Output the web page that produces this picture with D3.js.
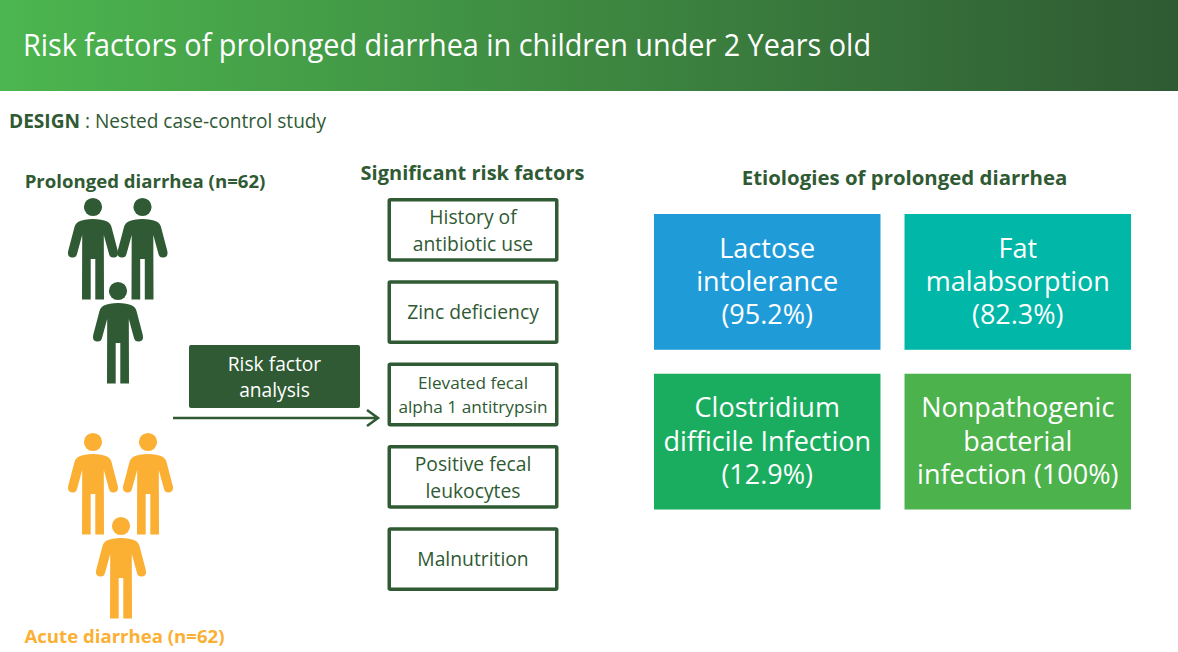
<!DOCTYPE html>
<html>
<head>
<meta charset="utf-8">
<script src="https://cdn.jsdelivr.net/npm/d3@7"></script>
<style>
  html, body { margin: 0; padding: 0; background: #fff; }
  svg { display: block; }
  text { font-family: "Open Sans", sans-serif; }
</style>
</head>
<body>
<svg id="chart" width="1178" height="652"></svg>
<script>
const titleText = 'Risk factors of prolonged diarrhea in children under 2 Years old';
const designLabel = 'DESIGN';
const designText = ' : Nested case-control study';
const prolongedLabel = 'Prolonged diarrhea (n=62)';
const acuteLabel = 'Acute diarrhea (n=62)';
const analysisLines = ['Risk factor', 'analysis'];
const riskHeading = 'Significant risk factors';
const riskFactors = [
  ['History of', 'antibiotic use'],
  ['Zinc deficiency'],
  ['Elevated fecal', 'alpha 1 antitrypsin'],
  ['Positive fecal', 'leukocytes'],
  ['Malnutrition']
];
const etiologyHeading = 'Etiologies of prolonged diarrhea';
const etiologyLines = [
  ['Lactose', 'intolerance', '(95.2%)'],
  ['Fat', 'malabsorption', '(82.3%)'],
  ['Clostridium', 'difficile Infection', '(12.9%)'],
  ['Nonpathogenic', 'bacterial', 'infection (100%)']
];

const dark = '#2f5a33';
const orange = '#fbb034';
const etiologyColors = ['#1f9cd8', '#00b7a8', '#1aad60', '#4cb24c'];

const svg = d3.select('#chart');

// header band
const grad = svg.append('defs').append('linearGradient').attr('id', 'head');
grad.append('stop').attr('offset', '0%').attr('stop-color', '#4cb64f');
grad.append('stop').attr('offset', '100%').attr('stop-color', dark);
svg.append('rect').attr('width', 1178).attr('height', 91).attr('fill', 'url(#head)');
svg.append('text').attr('x', 23).attr('y', 56).attr('fill', '#fff')
  .attr('font-size', 31.5).attr('textLength', 848).attr('lengthAdjust', 'spacingAndGlyphs')
  .text(titleText);

const design = svg.append('text').attr('x', 9).attr('y', 128).attr('fill', dark).attr('font-size', 19.1);
design.append('tspan').attr('font-weight', 700).text(designLabel);
design.append('tspan').attr('xml:space', 'preserve').text(designText);

const heading = (x, y, txt, color, size) => svg.append('text').attr('x', x).attr('y', y)
  .attr('fill', color).attr('font-size', size).attr('font-weight', 700).attr('text-anchor', 'middle').text(txt);

heading(145, 188, prolongedLabel, dark, 18.6);
heading(124.5, 643, acuteLabel, orange, 18.6);
heading(472.5, 180, riskHeading, dark, 20);
heading(904.5, 185, etiologyHeading, dark, 20.4);

// person glyph, origin at head centre
const personPath = 'M0,12 Q-9,12 -14,14.5 Q-17.5,16 -18.5,20 L-24.8,44 Q-26,50 -21,50.5 Q-17,51 -16,47 L-10.8,28 L-11,92.5 L-2.3,92.5 L-2.3,52 '
  + 'L2.3,52 L2.3,92.5 L11,92.5 L10.8,28 L16,47 Q17,51 21,50.5 Q26,50 24.8,44 L18.5,20 Q17.5,16 14,14.5 Q9,12 0,12 Z';

function people(color, anchors) {
  const g = svg.append('g').attr('fill', color).selectAll('g').data(anchors).join('g')
    .attr('transform', d => `translate(${d[0]},${d[1]})`);
  g.append('circle').attr('r', 9.1);
  g.append('path').attr('d', personPath);
}
people(dark, [[93, 207], [142.5, 207], [118, 291]]);
people(orange, [[93, 442], [148, 442], [121, 526]]);

// several lines in one text element, first baseline at y
function multiline(sel, lines, x, y, lh) {
  const t = sel.append('text').attr('text-anchor', 'middle');
  t.selectAll('tspan').data(lines).join('tspan')
    .attr('x', x)
    .attr('y', (d, i) => y + i * lh)
    .text(d => d);
  return t;
}

// analysis box and arrow
svg.append('rect').attr('x', 189).attr('y', 345).attr('width', 171).attr('height', 63).attr('rx', 2).attr('fill', dark);
multiline(svg, analysisLines, 274.5, 370.5, 26.5).attr('fill', '#fff').attr('font-size', 19.2);
svg.append('path').attr('d', 'M173,418 H377 M367,410 L378,418 L367,426')
  .attr('fill', 'none').attr('stroke', dark).attr('stroke-width', 2.6);

// risk factor boxes
const riskY = d3.scaleBand().domain(d3.range(riskFactors.length)).range([198, 591]).paddingInner(0.225);
const riskX = 387.5, riskW = 171;
const riskG = svg.append('g').selectAll('g').data(riskFactors).join('g')
  .attr('transform', (d, i) => `translate(${riskX},${riskY(i)})`);
riskG.append('rect')
  .attr('x', 1.75).attr('y', 1.75).attr('width', riskW - 3.5).attr('height', riskY.bandwidth() - 3.5)
  .attr('fill', '#fff').attr('stroke', dark).attr('stroke-width', 3.5).attr('rx', 1);
riskG.each(function (lines, i) {
  const small = i === 2;
  const lh = small ? 24 : 27;
  const mid = riskY.bandwidth() / 2;
  const off = small ? 6.8 : lines.length === 1 ? 7.2 : 7.3;
  multiline(d3.select(this), lines, riskW / 2, mid - (lines.length - 1) / 2 * lh + off, lh)
    .attr('fill', dark).attr('font-size', small ? 17.2 : 19.3);
});

// etiology tiles
const tileX = d3.scaleBand().domain([0, 1]).range([654, 1131]).paddingInner(0.096);
const tileY = d3.scaleBand().domain([0, 1]).range([214, 509.5]).paddingInner(0.15);
const tileG = svg.append('g').selectAll('g').data(etiologyLines).join('g')
  .attr('transform', (d, i) => `translate(${tileX(i % 2)},${tileY(Math.floor(i / 2))})`);
tileG.append('rect').attr('width', tileX.bandwidth()).attr('height', tileY.bandwidth())
  .attr('fill', (d, i) => etiologyColors[i]);
tileG.each(function (lines) {
  multiline(d3.select(this), lines, tileX.bandwidth() / 2, tileY.bandwidth() / 2 - 33.3 + 9, 33.3)
    .attr('fill', '#fff').attr('font-size', 27);
});
</script>
</body>
</html>
